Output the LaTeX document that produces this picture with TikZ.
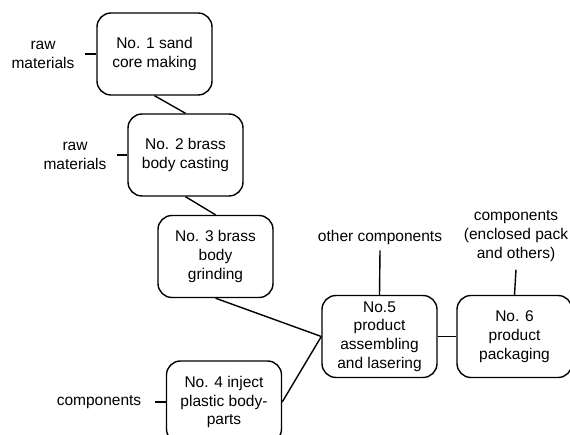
\documentclass[tikz,border=0pt]{standalone}
\usepackage{fontspec}
\setmainfont{Liberation Sans}
\begin{document}
\begin{tikzpicture}[x=1pt,y=-1pt,
  proc/.style={draw,line width=1.4pt,rounded corners=14pt,minimum width=115pt,minimum height=82pt,align=center,inner sep=2pt,font=\fontsize{15.5}{18.8}\selectfont},
  lab/.style={align=center,inner sep=0pt,font=\fontsize{15.5}{18.8}\selectfont},
  conn/.style={line width=1.4pt}]
\useasboundingbox (0,0) rectangle (570,435);
\clip (0,0) rectangle (570,435);
\node[proc] (b1) at (154.5,54) {No. 1 sand\\core making};
\node[proc] (b2) at (185.5,155) {No. 2 brass\\body casting};
\node[proc] (b3) at (215.5,256.5) {No. 3 brass\\body\\grinding};
\node[proc] (b4) at (224,402) {No. 4 inject\\plastic body-\\parts};
\node[proc] (b5) at (379.5,336.5) {No.5\\product\\assembling\\and lasering};
\node[proc] (b6) at (514.5,336.5) {No. 6\\product\\packaging};
\node[lab] (r1) at (43,55) {raw\\materials};
\node[lab] (r2) at (75,156) {raw\\materials};
\node[lab] (c4) at (99,402) {components};
\node[lab] (oc) at (380,237) {other components};
\node[lab] (c6) at (516,236) {components\\(enclosed pack\\and others)};
\draw[conn] (b1.south) -- (b2.north);
\draw[conn] (b2.south) -- (b3.north);
\draw[conn] (b3.south) -- (b5.west);
\draw[conn] (b4.east) -- (b5.west);
\draw[conn] (b5.east) -- (b6.west);
\draw[conn] ([xshift=10pt]r1.east |- b1.west) -- (b1.west);
\draw[conn] ([xshift=10pt]r2.east |- b2.west) -- (b2.west);
\draw[conn] ([xshift=14pt]c4.east) -- (b4.west);
\draw[conn] ([yshift=-6pt]oc.south) -- (b5.north);
\draw[conn] ([yshift=-8pt]c6.south) -- (b6.north);
\end{tikzpicture}
\end{document}
